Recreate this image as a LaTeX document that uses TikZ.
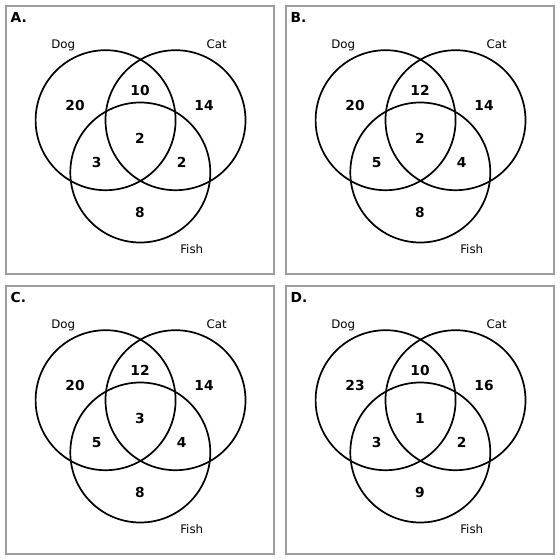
\documentclass[tikz,border=0pt]{standalone}
\usepackage{fontspec}
\setmainfont{DejaVu Sans}
\begin{document}
\begin{tikzpicture}[x=1pt,y=-1pt,
  panelframe/.style={draw=black!38, line width=2pt, minimum width=268pt, minimum height=268pt, inner sep=0pt, outer sep=0pt},
  vset/.style={circle, draw=black, line width=1.7pt, minimum size=140pt, inner sep=0pt, outer sep=0pt},
  setlabel/.style={font=\fontsize{11.8}{14}\selectfont, inner sep=0pt, anchor=base},
  count/.style={font=\fontsize{13.8}{16}\selectfont\bfseries, inner sep=0pt, anchor=base},
  paneltag/.style={font=\fontsize{13.8}{16}\selectfont\bfseries, inner sep=0pt, anchor=base west}]
\useasboundingbox (0,0) rectangle (560,560);
\foreach \p/\dx/\dy/\a/\b/\c/\d/\e/\f/\g in {A/0/0/20/10/14/2/3/2/8, B/280/0/20/12/14/2/5/4/8, C/0/280/20/12/14/3/5/4/8, D/280/280/23/10/16/1/3/2/9}{
  \begin{scope}[shift={(\dx,\dy)}]
    \node[panelframe] (\p-frame) at (140,140) {};
    \node[paneltag] (\p-tag) at (10.5,22.7) {\p.};
    \node[vset] (\p-dog) at (105.6,120.2) {};
    \node[vset] (\p-cat) at (175.5,120.2) {};
    \node[vset] (\p-fish) at (140.3,172.5) {};
    \node[setlabel] (\p-doglabel) at (63.3,48.4) {Dog};
    \node[setlabel] (\p-catlabel) at (216.7,48.4) {Cat};
    \node[setlabel] (\p-fishlabel) at (191.7,253.6) {Fish};
    \node[count] (\p-n1) at (75,110.3) {\a};
    \node[count] (\p-n2) at (140,95) {\b};
    \node[count] (\p-n3) at (204,110.3) {\c};
    \node[count] (\p-n4) at (140,143.3) {\d};
    \node[count] (\p-n5) at (96.7,167.7) {\e};
    \node[count] (\p-n6) at (181.7,167.7) {\f};
    \node[count] (\p-n7) at (140,217) {\g};
  \end{scope}
}
\end{tikzpicture}
\end{document}
